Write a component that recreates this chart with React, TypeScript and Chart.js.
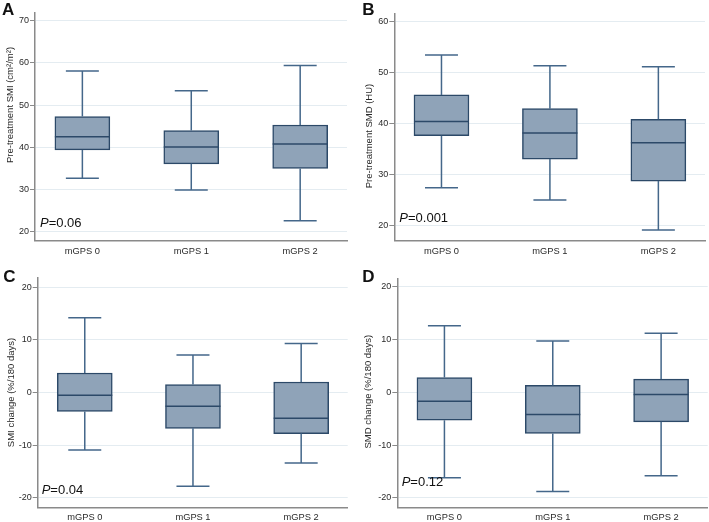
import React, { useEffect, useRef } from 'react';
import { Chart, registerables } from 'chart.js';

Chart.register(...registerables);

// ---------- data ----------
const categories = ['mGPS 0', 'mGPS 1', 'mGPS 2'];

// A: Pre-treatment SMI (cm²/m²)
const smiMin = [32.7, 29.9, 22.6];
const smiQ1 = [39.4, 36.1, 35.0];
const smiMedian = [42.5, 40.1, 40.8];
const smiQ3 = [47.3, 44.0, 45.3];
const smiMax = [58.1, 53.4, 59.4];
const smiTicks = [20, 30, 40, 50, 60, 70];

// B: Pre-treatment SMD (HU)
const smdMin = [27.5, 25.1, 19.2];
const smdQ1 = [37.7, 33.1, 28.8];
const smdMedian = [40.5, 38.2, 36.3];
const smdQ3 = [45.7, 43.0, 40.9];
const smdMax = [53.5, 51.4, 51.2];
const smdTicks = [20, 30, 40, 50, 60];

// C: SMI change (%/180 days)
const smiChgMin = [-10.9, -17.8, -13.4];
const smiChgQ1 = [-3.6, -6.8, -7.8];
const smiChgMedian = [-0.5, -2.6, -4.9];
const smiChgQ3 = [3.7, 1.5, 2.0];
const smiChgMax = [14.2, 7.1, 9.3];

// D: SMD change (%/180 days)
const smdChgMin = [-16.2, -18.8, -15.8];
const smdChgQ1 = [-5.3, -7.8, -5.6];
const smdChgMedian = [-1.7, -4.2, -0.4];
const smdChgQ3 = [2.8, 1.3, 2.5];
const smdChgMax = [12.6, 9.7, 11.2];

const changeTicks = [-20, -10, 0, 10, 20];

const panelLetters = ['A', 'B', 'C', 'D'];
const yTitles = [
  'Pre-treatment SMI (cm\u00B2/m\u00B2)',
  'Pre-treatment SMD (HU)',
  'SMI change (%/180 days)',
  'SMD change (%/180 days)',
];
const pValues = ['0.06', '0.001', '0.04', '0.12'];

// ---------- styles ----------
const FILL = '#8fa3b8';
const BORDER = '#2c4968';
const WHISKER = '#44678a';
const AXIS = '#8a8a8a';
const GRID = '#e4ecf1';
const TEXT = '#2a2a2a';
const FONT = '"Liberation Sans", Arial, sans-serif';

interface PanelCfg {
  idx: number;
  left: number;
  top: number;
  min: number[];
  q1: number[];
  median: number[];
  q3: number[];
  max: number[];
  ticks: number[];
  yMin: number;
  yMax: number;
  padTop: number;
  padRight: number;
  yW: number;
  xH: number;
  letterX: number;
  letterY: number;
  titleX: number;
  titleY: number;
  pDx: number;
  pDy: number;
}

const panels: PanelCfg[] = [
  {
    idx: 0, left: 0, top: 0,
    min: smiMin, q1: smiQ1, median: smiMedian, q3: smiQ3, max: smiMax,
    ticks: smiTicks, yMin: 17.9, yMax: 71.9,
    padTop: 12.7, padRight: 7, yW: 35, xH: 20.3,
    letterX: 2, letterY: 15, titleX: 10.5, titleY: 105, pDx: 5, pDy: 14,
  },
  {
    idx: 1, left: 355, top: 0,
    min: smdMin, q1: smdQ1, median: smdMedian, q3: smdQ3, max: smdMax,
    ticks: smdTicks, yMin: 17.1, yMax: 61.7,
    padTop: 13.3, padRight: 4, yW: 39.3, xH: 20.3,
    letterX: 7.3, letterY: 15, titleX: 14.5, titleY: 136, pDx: 5, pDy: 18.5,
  },
  {
    idx: 2, left: 0, top: 261,
    min: smiChgMin, q1: smiChgQ1, median: smiChgMedian, q3: smiChgQ3, max: smiChgMax,
    ticks: changeTicks, yMin: -21.8, yMax: 21.8,
    padTop: 16.7, padRight: 6.3, yW: 37.7, xH: 14.7,
    letterX: 3.3, letterY: 20.7, titleX: 11.7, titleY: 131.5, pDx: 4, pDy: 13,
  },
  {
    idx: 3, left: 355, top: 261,
    min: smdChgMin, q1: smdChgQ1, median: smdChgMedian, q3: smdChgQ3, max: smdChgMax,
    ticks: changeTicks, yMin: -21.8, yMax: 21.6,
    padTop: 17.3, padRight: 1.3, yW: 42.3, xH: 14.7,
    letterX: 7.3, letterY: 20.7, titleX: 13.3, titleY: 130.7, pDx: 4.4, pDy: 21.5,
  },
];

const W = 354;
const H = 261;

function Panel({ cfg }: { cfg: PanelCfg }) {
  const ref = useRef<HTMLCanvasElement>(null);

  useEffect(() => {
    const c = cfg;
    const overlay = {
      id: 'boxOverlay' + c.idx,
      afterDatasetsDraw(chart: any) {
        const ctx = chart.ctx;
        const y = chart.scales.y;
        const meta = chart.getDatasetMeta(0);
        ctx.save();
        meta.data.forEach((el: any, i: number) => {
          const { x, width } = el.getProps(['x', 'width'], true);
          const yMin = y.getPixelForValue(c.min[i]);
          const yQ1 = y.getPixelForValue(c.q1[i]);
          const yMed = y.getPixelForValue(c.median[i]);
          const yQ3 = y.getPixelForValue(c.q3[i]);
          const yMax = y.getPixelForValue(c.max[i]);
          const cw = (width * 0.6) / 2;
          ctx.strokeStyle = WHISKER;
          ctx.lineWidth = 1.5;
          ctx.lineCap = 'butt';
          ctx.beginPath();
          ctx.moveTo(x, yQ3);
          ctx.lineTo(x, yMax);
          ctx.moveTo(x, yQ1);
          ctx.lineTo(x, yMin);
          ctx.moveTo(x - cw, yMax);
          ctx.lineTo(x + cw, yMax);
          ctx.moveTo(x - cw, yMin);
          ctx.lineTo(x + cw, yMin);
          ctx.stroke();
          ctx.strokeStyle = BORDER;
          ctx.beginPath();
          ctx.moveTo(x - width / 2, yMed);
          ctx.lineTo(x + width / 2, yMed);
          ctx.stroke();
        });
        ctx.restore();
      },
      afterDraw(chart: any) {
        const ctx = chart.ctx;
        const area = chart.chartArea;
        ctx.save();
        // panel letter
        ctx.fillStyle = '#111';
        ctx.font = `bold 17px ${FONT}`;
        ctx.textAlign = 'left';
        ctx.textBaseline = 'alphabetic';
        ctx.fillText(panelLetters[c.idx], c.letterX, c.letterY);
        // y title
        ctx.save();
        ctx.translate(c.titleX, c.titleY);
        ctx.rotate(-Math.PI / 2);
        ctx.font = `9.5px ${FONT}`;
        ctx.fillStyle = TEXT;
        ctx.textAlign = 'center';
        ctx.textBaseline = 'middle';
        ctx.fillText(yTitles[c.idx], 0, 0);
        ctx.restore();
        // P value
        const px = area.left + c.pDx;
        const py = area.bottom - c.pDy;
        ctx.fillStyle = '#111';
        ctx.textAlign = 'left';
        ctx.textBaseline = 'alphabetic';
        ctx.font = `italic 13px ${FONT}`;
        ctx.fillText('P', px, py);
        const pw = ctx.measureText('P').width;
        ctx.font = `13px ${FONT}`;
        ctx.fillText('=' + pValues[c.idx], px + pw, py);
        ctx.restore();
      },
    };

    const chart = new Chart(ref.current as HTMLCanvasElement, {
      type: 'bar',
      data: {
        datasets: [
          {
            data: c.q1.map((q, i) => ({ x: i, y: [q, c.q3[i]] })) as any,
            backgroundColor: FILL,
            borderColor: BORDER,
            borderWidth: 1.5,
            borderSkipped: false,
            barThickness: 55,
          },
        ],
      },
      options: {
        animation: false,
        responsive: false,
        devicePixelRatio: 1,
        layout: {
          autoPadding: false,
          padding: { top: c.padTop, right: c.padRight, left: 0, bottom: 0 },
        },
        plugins: {
          legend: { display: false },
          tooltip: { enabled: false },
          title: { display: false },
        },
        scales: {
          x: {
            type: 'linear',
            offset: false,
            min: -0.435,
            max: 2.43,
            afterBuildTicks: (s: any) => {
              s.ticks = categories.map((_, i) => ({ value: i }));
            },
            afterFit: (s: any) => {
              s.height = c.xH;
            },
            grid: { display: false, drawTicks: false, offset: false },
            border: { display: true, color: AXIS, width: 1.5 },
            ticks: {
              autoSkip: false,
              maxRotation: 0,
              padding: 5,
              color: TEXT,
              font: { family: FONT, size: 9.3 },
              callback: (v: any) => categories[Math.round(Number(v))],
            },
          },
          y: {
            type: 'linear',
            min: c.yMin,
            max: c.yMax,
            afterBuildTicks: (s: any) => {
              s.ticks = c.ticks.map((v) => ({ value: v }));
            },
            afterFit: (s: any) => {
              s.width = c.yW;
            },
            grid: {
              color: GRID,
              lineWidth: 1,
              drawTicks: true,
              tickLength: 5,
              tickColor: AXIS,
              tickWidth: 1,
            },
            border: { display: true, color: AXIS, width: 1.5 },
            ticks: {
              autoSkip: false,
              padding: 1,
              color: TEXT,
              font: { family: FONT, size: 9 },
            },
          },
        },
      } as any,
      plugins: [overlay],
    });
    return () => chart.destroy();
  }, [cfg]);

  return (
    <canvas
      ref={ref}
      width={W}
      height={H}
      style={{ position: 'absolute', left: cfg.left, top: cfg.top, width: W, height: H }}
    />
  );
}

export default function App() {
  return (
    <div
      style={{
        position: 'fixed',
        left: 0,
        top: 0,
        width: 709,
        height: 522,
        background: '#ffffff',
        overflow: 'hidden',
      }}
    >
      {panels.map((p) => (
        <Panel key={p.idx} cfg={p} />
      ))}
    </div>
  );
}
